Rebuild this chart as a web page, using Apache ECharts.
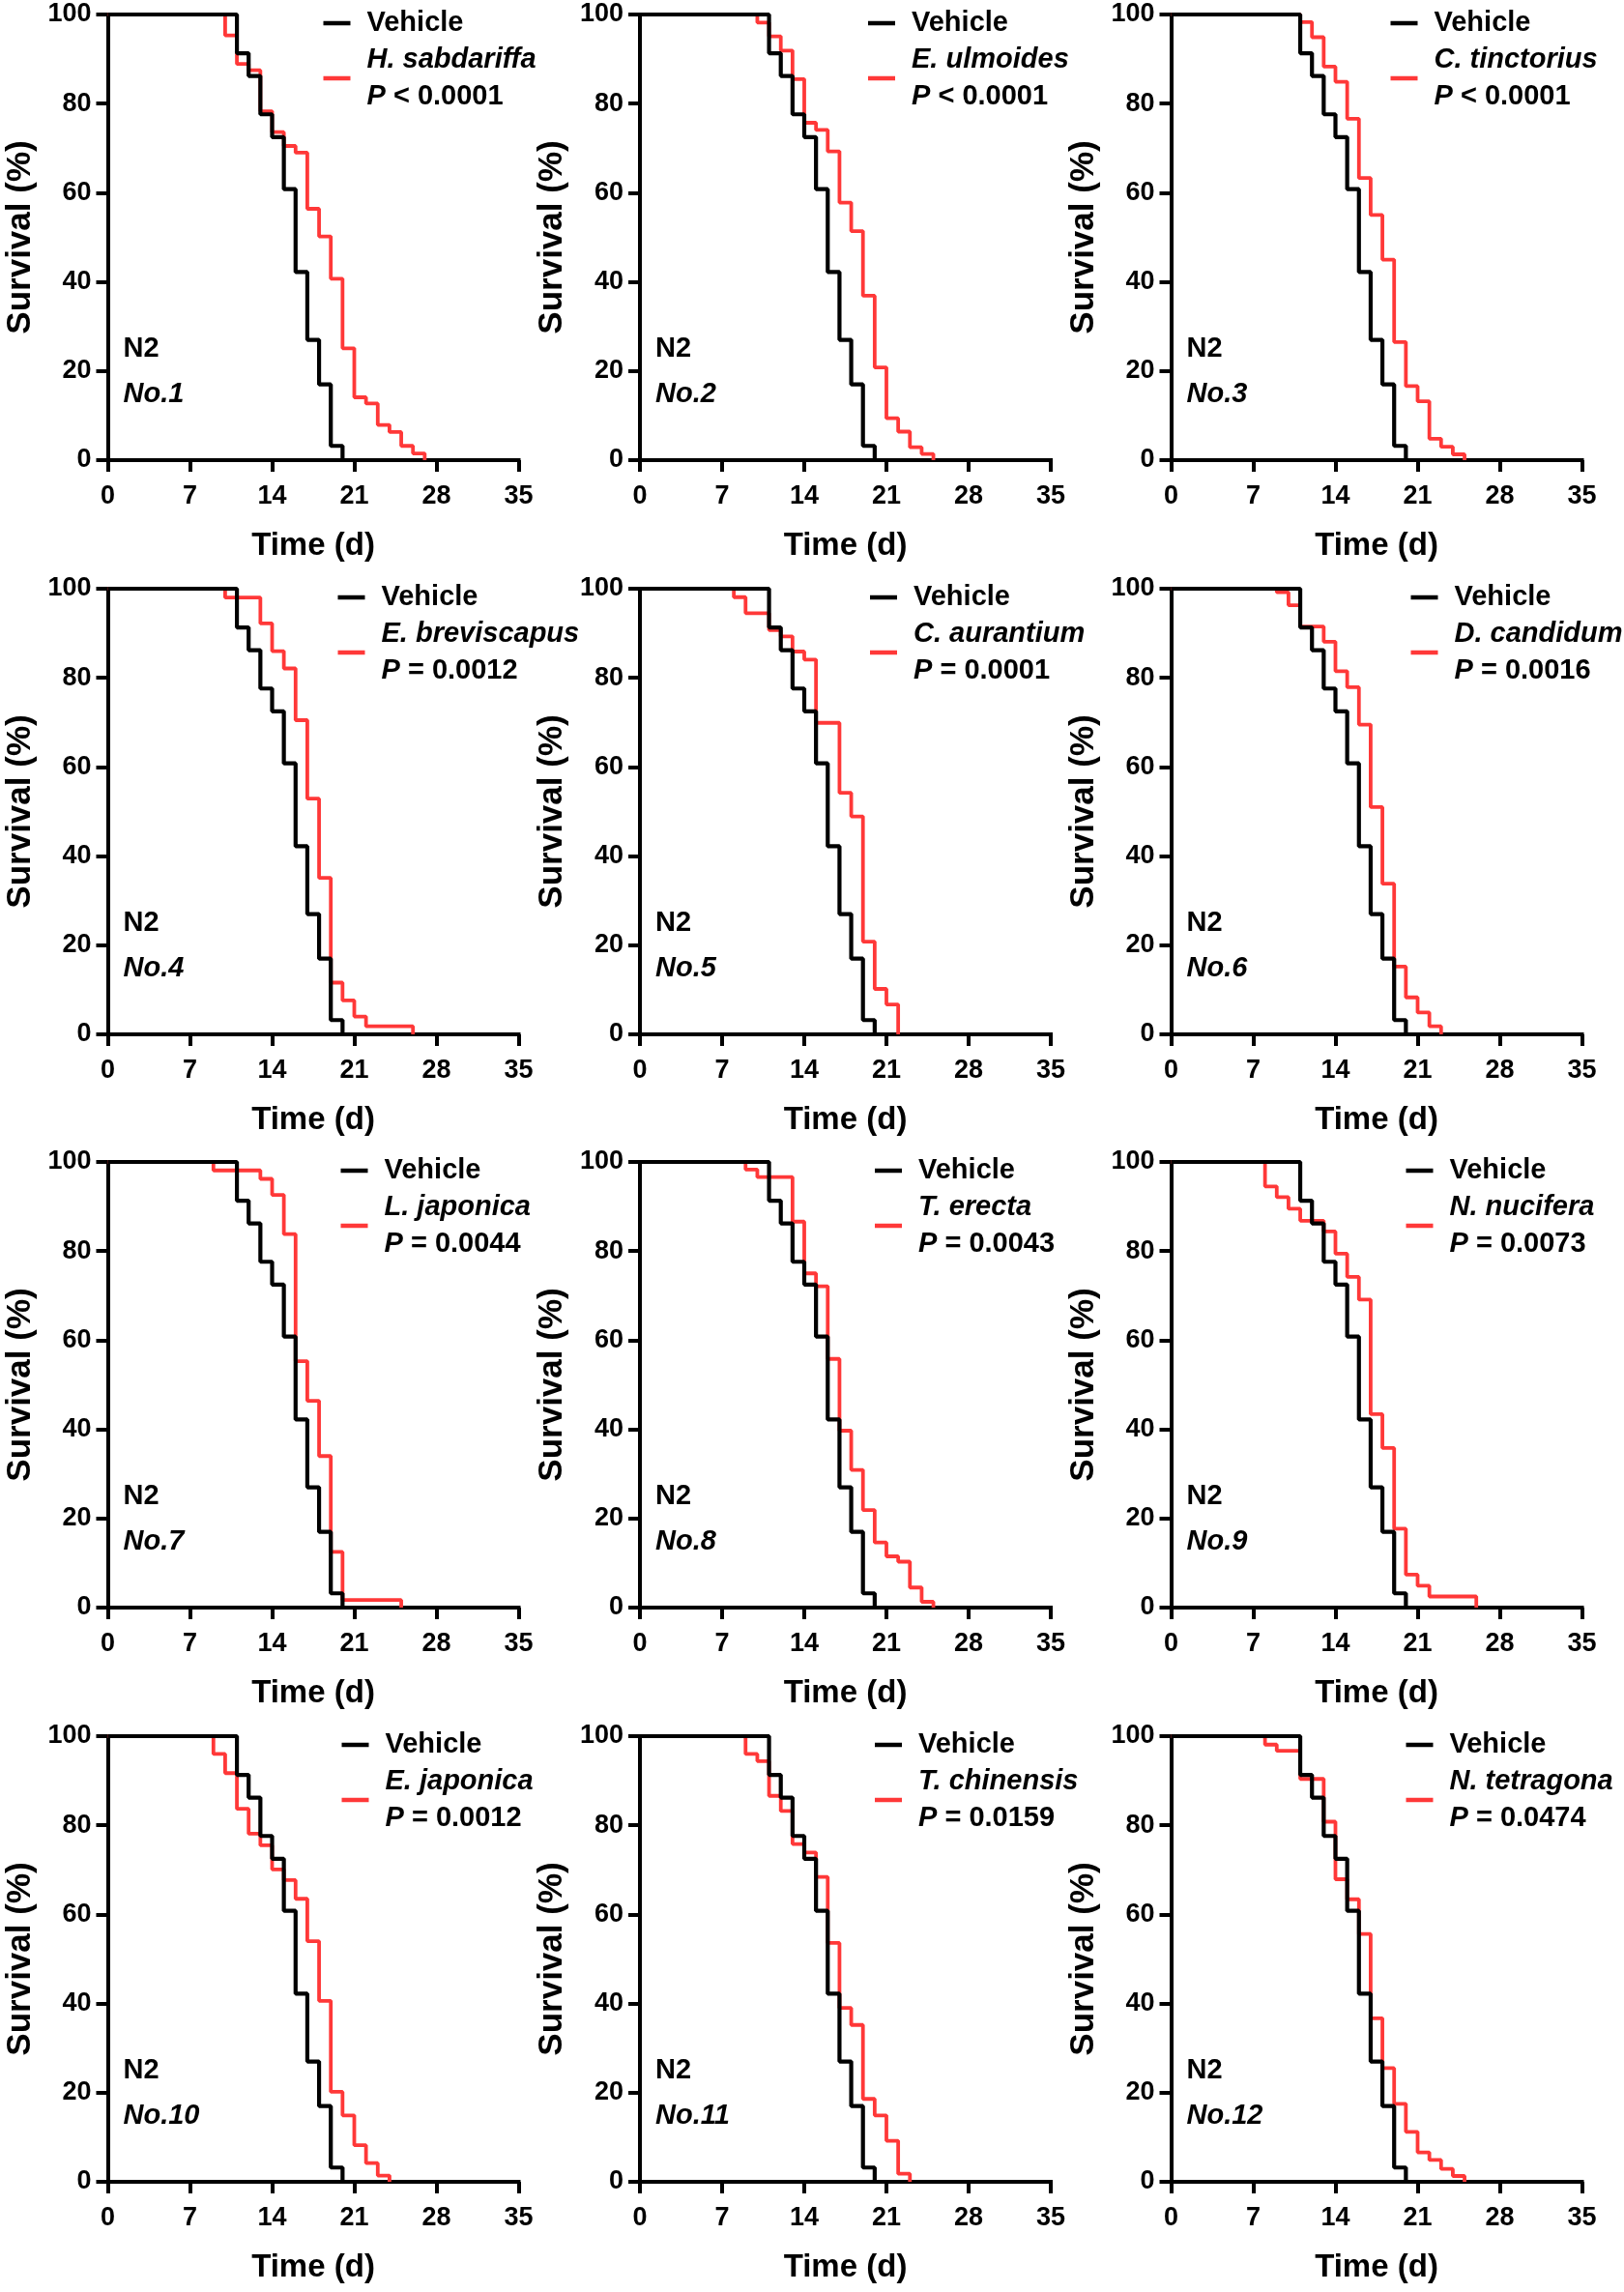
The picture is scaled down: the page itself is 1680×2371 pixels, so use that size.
<!DOCTYPE html>
<html>
<head>
<meta charset="utf-8">
<script src="https://cdn.jsdelivr.net/npm/echarts@6/dist/echarts.min.js"></script>
<style>
html,body{margin:0;padding:0;background:#fff;}
#chart{width:1680px;height:2371px;}
</style>
</head>
<body>
<div id="chart"></div>
<script>
// ---------- data ----------
const xTicks = [0, 7, 14, 21, 28, 35];
const yTicks = [0, 20, 40, 60, 80, 100];

const vehicle = [[0,100],[11,91.3],[12,86.2],[13,77.6],[14,72.5],[15,60.8],[16,42.2],[17,27.0],[18,17.0],[19,3.2],[20,0]];

const hSabdariffa  = [[0,100],[10,95.3],[11,88.9],[12,87.5],[13,78.3],[14,73.6],[15,70.5],[16,69.0],[17,56.4],[18,50.2],[19,40.7],[20,25.1],[21,14.1],[22,12.7],[23,7.9],[24,6.3],[25,3.2],[26,1.5],[27,0]];
const eUlmoides    = [[0,100],[10,98.2],[11,95.1],[12,91.9],[13,85.5],[14,75.7],[15,74.1],[16,69.3],[17,57.8],[18,51.4],[19,36.9],[20,20.8],[21,9.4],[22,6.4],[23,2.9],[24,1.4],[25,0]];
const cTinctorius  = [[0,100],[11,98.3],[12,94.9],[13,88.3],[14,84.9],[15,76.6],[16,63.3],[17,55.0],[18,45.0],[19,26.5],[20,16.6],[21,13.2],[22,4.8],[23,3.0],[24,1.3],[25,0]];
const eBreviscapus = [[0,100],[10,98.0],[13,92.2],[14,86.0],[15,82.1],[16,70.5],[17,52.9],[18,35.1],[19,11.6],[20,7.6],[21,4.0],[22,1.8],[26,0]];
const cAurantium   = [[0,100],[8,98.1],[9,94.5],[11,90.7],[12,89.3],[13,85.9],[14,84.1],[15,69.9],[17,54.2],[18,48.9],[19,20.8],[20,10.2],[21,6.7],[22,0]];
const dCandidum    = [[0,100],[9,99.2],[10,96.3],[11,91.5],[13,88.1],[14,81.5],[15,77.9],[16,69.5],[17,51.0],[18,33.8],[19,15.2],[20,8.3],[21,4.9],[22,1.8],[23,0]];
const lJaponica    = [[0,100],[9,98.1],[13,96.2],[14,92.6],[15,83.8],[16,55.3],[17,46.4],[18,34.0],[19,12.5],[20,1.7],[25,0]];
const tErecta      = [[0,100],[9,98.3],[10,96.6],[13,86.6],[14,75.0],[15,72.1],[16,55.8],[17,39.7],[18,30.9],[19,21.9],[20,14.6],[21,11.5],[22,10.3],[23,4.5],[24,1.3],[25,0]];
const nNucifera    = [[0,100],[8,94.5],[9,92.1],[10,89.5],[11,86.8],[13,84.4],[14,79.4],[15,74.2],[16,69.1],[17,43.4],[18,35.8],[19,17.7],[20,7.4],[21,4.9],[22,2.5],[26,0]];
const eJaponica    = [[0,100],[9,96.0],[10,91.7],[11,83.7],[12,78.1],[13,75.5],[14,70.1],[15,67.7],[16,63.5],[17,54.0],[18,40.6],[19,20.2],[20,14.9],[21,8.2],[22,4.2],[23,1.4],[24,0]];
const tChinensis   = [[0,100],[9,96.0],[10,94.4],[11,86.6],[12,83.2],[13,75.8],[14,73.9],[15,68.4],[16,53.6],[17,39.0],[18,35.2],[19,18.6],[20,14.9],[21,9.2],[22,1.8],[23,0]];
const nTetragona   = [[0,100],[8,98.1],[9,96.7],[11,90.4],[13,80.8],[14,67.9],[15,63.4],[16,55.6],[17,36.7],[18,25.5],[19,17.5],[20,11.2],[21,6.6],[22,4.9],[23,2.9],[24,1.3],[25,0]];

const treatmentSeries = [hSabdariffa, eUlmoides, cTinctorius, eBreviscapus, cAurantium, dCandidum, lJaponica, tErecta, nNucifera, eJaponica, tChinensis, nTetragona];
const treatmentNames = ['H. sabdariffa','E. ulmoides','C. tinctorius','E. breviscapus','C. aurantium','D. candidum','L. japonica','T. erecta','N. nucifera','E. japonica','T. chinensis','N. tetragona'];
const pValues = ['< 0.0001','< 0.0001','< 0.0001','= 0.0012','= 0.0001','= 0.0016','= 0.0044','= 0.0043','= 0.0073','= 0.0012','= 0.0159','= 0.0474'];
const strainLabel = 'N2';
const panelLabels = ['No.1','No.2','No.3','No.4','No.5','No.6','No.7','No.8','No.9','No.10','No.11','No.12'];

// ---------- layout ----------
const colLeft = [111.5, 662, 1211.5];
const rowTop = [15, 609, 1202, 1796];
const plotW = 425, plotH = 461;
const legendOffset = [218, 231, 222, 233, 233, 243, 236, 238, 238, 237, 238, 238];
const FONT = '"Liberation Sans", Arial, Helvetica, sans-serif';
const RED = '#FF3838';

const grids = [], xAxes = [], yAxes = [], series = [], legends = [], graphics = [];

treatmentSeries.forEach((data, i) => {
  const c = i % 3, r = Math.floor(i / 3);
  const left = colLeft[c], top = rowTop[r];
  grids.push({ left: left, top: top, width: plotW, height: plotH, containLabel: false });
  const axisLineStyle = { color: '#000', width: 4, cap: 'square' };
  xAxes.push({
    gridIndex: i, type: 'value', min: xTicks[0], max: xTicks[xTicks.length - 1], interval: 7,
    name: 'Time (d)', nameLocation: 'middle', nameGap: 72,
    nameTextStyle: { fontFamily: FONT, fontWeight: 'bold', fontSize: 33, color: '#000' },
    axisLine: { show: true, onZero: false, lineStyle: axisLineStyle },
    axisTick: { show: true, length: 12, lineStyle: { color: '#000', width: 4 } },
    axisLabel: { margin: 24, fontFamily: FONT, fontWeight: 'bold', fontSize: 27, color: '#000' },
    splitLine: { show: false }
  });
  yAxes.push({
    gridIndex: i, type: 'value', min: yTicks[0], max: yTicks[yTicks.length - 1], interval: 20,
    name: 'Survival (%)', nameLocation: 'middle', nameGap: 73,
    nameTextStyle: { fontFamily: FONT, fontWeight: 'bold', fontSize: 35, color: '#000' },
    axisLine: { show: true, onZero: false, lineStyle: axisLineStyle },
    axisTick: { show: true, length: 12, lineStyle: { color: '#000', width: 4 } },
    axisLabel: { margin: 17, fontFamily: FONT, fontWeight: 'bold', fontSize: 27, color: '#000' },
    splitLine: { show: false }
  });
  series.push({
    type: 'line', name: treatmentNames[i], xAxisIndex: i, yAxisIndex: i, data: data,
    step: 'end', showSymbol: false, symbol: 'none', clip: false, color: RED,
    lineStyle: { color: RED, width: 3.8 }, z: 2, silent: true
  });
  series.push({
    type: 'line', name: 'Vehicle', xAxisIndex: i, yAxisIndex: i, data: vehicle,
    step: 'end', showSymbol: false, symbol: 'none', clip: false, color: '#000',
    lineStyle: { color: '#000', width: 4.2 }, z: 3, silent: true
  });
  const pv = pValues[i];
  legends.push({
    orient: 'vertical', left: left + legendOffset[i], top: top - 15,
    itemGap: 0, itemWidth: 28, itemHeight: 4.5, icon: 'rect', selectedMode: false,
    data: ['Vehicle', treatmentNames[i]],
    formatter: function (n) {
      return n === 'Vehicle' ? 'Vehicle' : '{i|' + n + '}\n{i|P}{r| ' + pv + '}';
    },
    textStyle: {
      fontFamily: FONT, fontWeight: 'bold', fontSize: 29, lineHeight: 38, color: '#000',
      padding: [0, 0, 0, 12],
      rich: {
        i: { fontFamily: FONT, fontWeight: 'bold', fontStyle: 'italic', fontSize: 29, lineHeight: 38, color: '#000' },
        r: { fontFamily: FONT, fontWeight: 'bold', fontSize: 29, lineHeight: 38, color: '#000' }
      }
    }
  });
  graphics.push({
    type: 'text', x: left + 16, y: top + 346,
    style: { text: strainLabel, font: 'bold 29px ' + FONT, fill: '#000', verticalAlign: 'middle', align: 'left' }
  });
  graphics.push({
    type: 'text', x: left + 16, y: top + 393,
    style: { text: panelLabels[i], font: 'italic bold 29px ' + FONT, fill: '#000', verticalAlign: 'middle', align: 'left' }
  });
});

const chart = echarts.init(document.getElementById('chart'), null, { renderer: 'canvas' });
chart.setOption({
  backgroundColor: '#ffffff',
  animation: false,
  grid: grids, xAxis: xAxes, yAxis: yAxes, series: series, legend: legends,
  graphic: graphics
});
</script>
</body>
</html>
